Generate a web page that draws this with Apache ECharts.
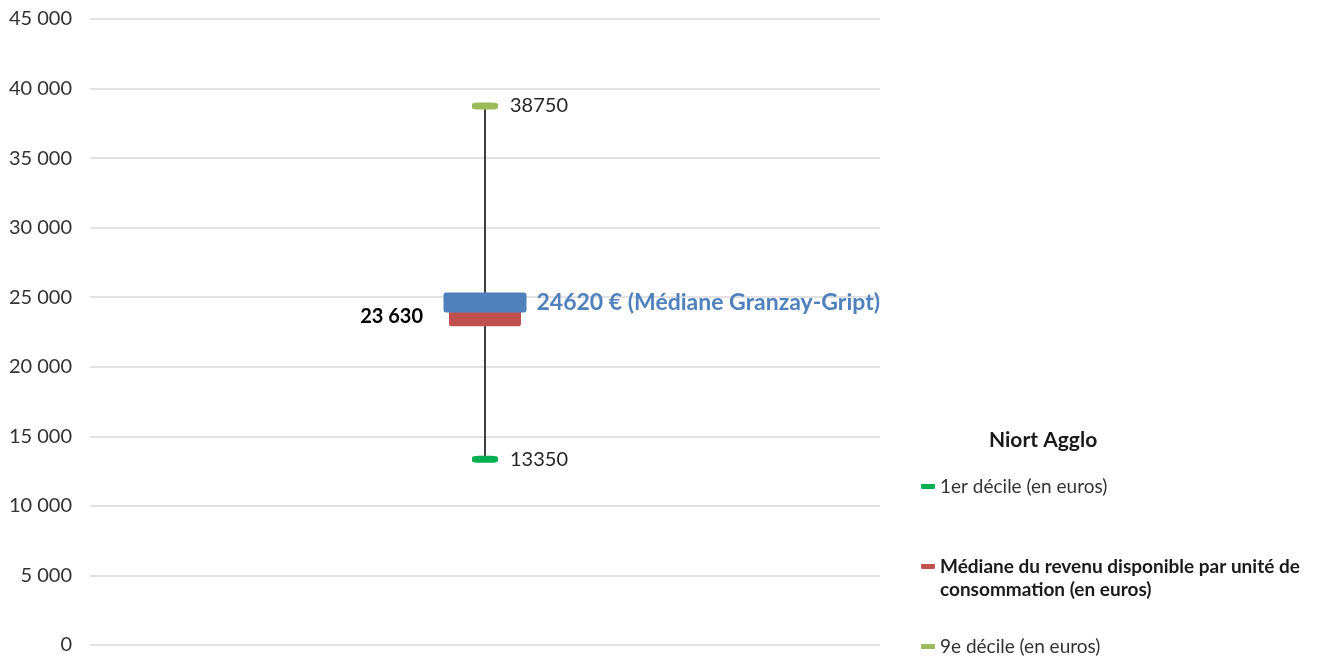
<!DOCTYPE html>
<html>
<head>
<meta charset="utf-8">
<script src="https://cdn.jsdelivr.net/npm/echarts@6/dist/echarts.min.js"></script>
<style>
  html, body { margin: 0; padding: 0; background: #fff; }
  #chart { width: 1321px; height: 659px; }
</style>
</head>
<body>
<div id="chart"></div>
<script>
// valeurs
const decile1 = 13350;
const decile9 = 38750;
const medianeAgglo = 23630;
const medianeCommune = 24620;
const yTicks = [0, 5000, 10000, 15000, 20000, 25000, 30000, 35000, 40000, 45000];

const font = 'Lato, "Open Sans", sans-serif';
const xPos = 1; // position du boxplot sur l'axe x (0..2)
// rectangle aux coins légèrement arrondis
const boxPath = 'path://M3,0H97Q100,0 100,3V17Q100,20 97,20H3Q0,20 0,17V3Q0,0 3,0Z';

let chart = echarts.init(document.getElementById('chart'));

const fmt = v => String(v).replace(/\B(?=(\d{3})+(?!\d))/g, ' ');

const option = {
  animation: false,
  textStyle: { fontFamily: font },
  grid: { left: 90, right: 441, top: 19, bottom: 14 },
  title: {
    text: 'Niort Agglo',
    left: 984, top: 425,
    textStyle: { fontFamily: font, fontSize: 21, fontWeight: 'bold', color: '#1a1a1a' }
  },
  legend: [
    {
      data: ['1er décile (en euros)'],
      orient: 'vertical', left: 921, top: 477, padding: 0,
      icon: 'roundRect', itemWidth: 14, itemHeight: 5,
      textStyle: { fontFamily: font, fontSize: 19, color: '#333' }
    },
    {
      data: ['Médiane du revenu disponible par unité de consommation (en euros)'],
      orient: 'vertical', left: 921, top: 557, padding: 0,
      icon: 'roundRect', itemWidth: 14, itemHeight: 5,
      formatter: () => 'Médiane du revenu disponible par unité de',
      textStyle: { fontFamily: font, fontSize: 19, fontWeight: 'bold', color: '#1a1a1a' }
    },
    {
      data: ['9e décile (en euros)'],
      orient: 'vertical', left: 921, top: 637, padding: 0,
      icon: 'roundRect', itemWidth: 14, itemHeight: 5,
      textStyle: { fontFamily: font, fontSize: 19, color: '#333' }
    }
  ],
  graphic: [
    {
      type: 'text', left: 940, top: 580,
      style: {
        text: 'consommation (en euros)',
        font: 'bold 19px ' + font, fill: '#1a1a1a'
      }
    }
  ],
  xAxis: {
    type: 'value', min: 0, max: 2,
    show: false
  },
  yAxis: {
    type: 'value', min: 0, max: 45000, interval: 5000,
    axisLine: { show: false },
    axisTick: { show: false },
    axisLabel: {
      fontFamily: font, fontSize: 20, color: '#333', margin: 18,
      formatter: v => yTicks.includes(v) ? fmt(v) : ''
    },
    splitLine: { lineStyle: { color: '#d9d9d9', width: 1.5 } }
  },
  series: [
    {
      name: 'moustache',
      type: 'line',
      data: [[xPos, decile1], [xPos, decile9]],
      symbol: 'none',
      lineStyle: { color: '#404040', width: 2 },
      z: 1
    },
    {
      name: 'Médiane du revenu disponible par unité de consommation (en euros)',
      type: 'scatter',
      data: [[xPos, medianeAgglo]],
      symbol: boxPath,
      symbolSize: [72, 20],
      itemStyle: { color: '#C0504D', opacity: 1 },
      label: {
        show: true, position: 'left', distance: 26,
        formatter: () => fmt(medianeAgglo),
        fontFamily: font, fontSize: 20, fontWeight: 'bold', color: '#000'
      },
      z: 2
    },
    {
      name: 'Granzay-Gript',
      type: 'scatter',
      data: [[xPos, medianeCommune]],
      symbol: boxPath,
      symbolSize: [83, 20],
      itemStyle: { color: '#4F81BD', opacity: 1 },
      label: {
        show: true, position: 'right', distance: 10,
        formatter: () => medianeCommune + ' € (Médiane Granzay-Gript)',
        fontFamily: font, fontSize: 23, fontWeight: 'bold', color: '#4F81BD'
      },
      z: 3
    },
    {
      name: '1er décile (en euros)',
      type: 'scatter',
      data: [[xPos, decile1]],
      symbol: 'roundRect',
      symbolSize: [26, 7],
      itemStyle: { color: '#00B050', opacity: 1 },
      label: {
        show: true, position: 'right', distance: 12,
        formatter: () => String(decile1),
        fontFamily: font, fontSize: 20, color: '#262626'
      },
      z: 3
    },
    {
      name: '9e décile (en euros)',
      type: 'scatter',
      data: [[xPos, decile9]],
      symbol: 'roundRect',
      symbolSize: [26, 7],
      itemStyle: { color: '#9BBB59', opacity: 1 },
      label: {
        show: true, position: 'right', distance: 12,
        formatter: () => String(decile9),
        fontFamily: font, fontSize: 20, color: '#262626'
      },
      z: 3
    }
  ]
};

chart.setOption(option);
</script>
</body>
</html>
